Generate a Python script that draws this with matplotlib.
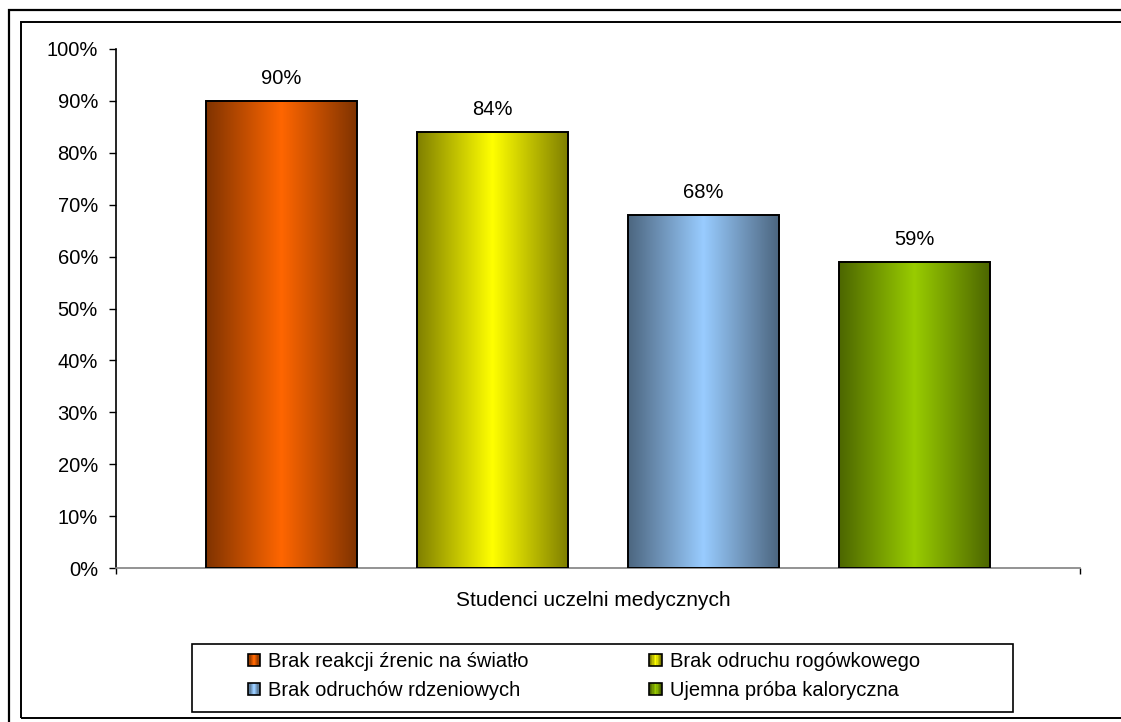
import numpy as np
import matplotlib
matplotlib.use("Agg")
import matplotlib.pyplot as plt
from matplotlib.patches import Rectangle
from matplotlib.legend_handler import HandlerBase
from matplotlib.ticker import FuncFormatter

plt.rcParams['font.family'] = ['Liberation Sans', 'DejaVu Sans']
FS = 14.5
plt.rcParams['font.size'] = FS

# ---- data ----
series = ["Brak reakcji źrenic na światło", "Brak odruchu rogówkowego",
          "Brak odruchów rdzeniowych", "Ujemna próba kaloryczna"]
values = [90, 84, 68, 59]
category = "Studenci uczelni medycznych"
yticks = list(range(0, 101, 10))

light_colors = [(255, 102, 0), (255, 255, 0), (153, 204, 255), (153, 204, 0)]

W, H = 1121, 722
fig = plt.figure(figsize=(W / 100, H / 100), dpi=100)
fig.patch.set_facecolor("white")

# frames
fig.patches.append(Rectangle((8.5 / W, -1), 2, 1 - 9.5 / H + 1, transform=fig.transFigure,
                             fill=False, edgecolor="black", linewidth=1.6))
fig.patches.append(Rectangle((20.5 / W, 1 - 718 / H), 2, (718 - 22) / H, transform=fig.transFigure,
                             fill=False, edgecolor="black", linewidth=1.4))

ax = fig.add_axes([116 / W, 1 - 568 / H, (1080 - 116) / W, (568 - 49) / H])

n = len(values)
spacing = 211 / 964
width = 151 / 964
centers = [0.5 + (i - (n - 1) / 2) * spacing for i in range(n)]


def gradient_rgb(light, npts=256):
    lc = np.array(light) / 255.0
    dc = lc * 0.5
    t = np.abs(np.linspace(-1, 1, npts))
    return (lc[None, :] * (1 - t[:, None]) + dc[None, :] * t[:, None])


bars = ax.bar(centers, values, width=width, facecolor="none", edgecolor="black",
              linewidth=1.4, zorder=3)
for b, lc, v in zip(bars, light_colors, values):
    g = gradient_rgb(lc)[None, :, :]
    x0 = b.get_x()
    ax.imshow(g, extent=(x0, x0 + b.get_width(), 0, v), aspect="auto",
              interpolation="bilinear", zorder=2)
    ax.text(b.get_x() + b.get_width() / 2, v + 3.2, f"{v}%", ha="center", va="baseline",
            fontsize=FS)
ax.set_aspect("auto")
ax.set_xlim(0, 1)
ax.set_ylim(0, 100)

ax.set_yticks(yticks)
ax.yaxis.set_major_formatter(FuncFormatter(lambda v, p: f"{int(v)}%"))
ax.tick_params(axis="y", direction="out", length=5, width=1, pad=8, labelsize=FS)
ax.set_xticks([0, 1])
ax.set_xticklabels(["", ""])
ax.tick_params(axis="x", direction="out", length=4, width=1, colors="black")
for s in ["top", "right"]:
    ax.spines[s].set_visible(False)
ax.spines["left"].set_color("black")
ax.spines["left"].set_linewidth(1.2)
ax.spines["bottom"].set_color("#808080")
ax.spines["bottom"].set_linewidth(1.2)

fig.text(593 / W, 1 - 600 / H, category, ha="center", va="center", fontsize=15)


class GradHandler(HandlerBase):
    def __init__(self, light):
        super().__init__()
        self.light = light

    def create_artists(self, legend, orig_handle, xdescent, ydescent, width, height, fontsize, trans):
        arts = []
        cols = gradient_rgb(self.light, 9)
        k = len(cols)
        for j, c in enumerate(cols):
            r = Rectangle((-xdescent + j * width / k, -ydescent), width / k + 0.01, height,
                          facecolor=c, edgecolor="none", transform=trans)
            arts.append(r)
        arts.append(Rectangle((-xdescent, -ydescent), width, height, facecolor="none",
                              edgecolor="black", linewidth=1.2, transform=trans))
        return arts


handles = [Rectangle((0, 0), 1, 1) for _ in series]
hmap = {h: GradHandler(lc) for h, lc in zip(handles, light_colors)}
# reorder for row-major filling in 2 columns
order = [0, 2, 1, 3]
leg = fig.legend([handles[i] for i in order], [series[i] for i in order],
                 handler_map=hmap, ncols=2, frameon=False, loc="upper left",
                 bbox_to_anchor=(248 / W, 1 - 652 / H), borderaxespad=0, borderpad=0,
                 handlelength=0.6, handleheight=0.6, handletextpad=0.4,
                 columnspacing=6.0, labelspacing=0.5, fontsize=FS)

fig.patches.append(Rectangle((192 / W, 1 - 712 / H), (1013 - 192) / W, (712 - 644) / H,
                             transform=fig.transFigure, fill=False, edgecolor="black",
                             linewidth=1.2))

fig.savefig("out.png", dpi=100, facecolor="white")
